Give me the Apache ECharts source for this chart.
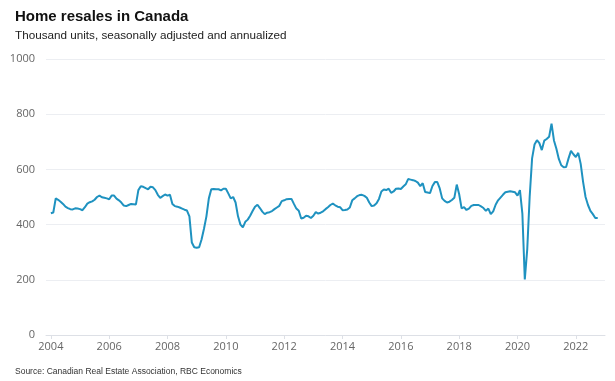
<!DOCTYPE html>
<html>
<head>
<meta charset="utf-8">
<script src="https://cdn.jsdelivr.net/npm/echarts@6/dist/echarts.min.js"></script>
<style>html,body{margin:0;padding:0;background:#fff}#c{width:615px;height:381px}</style>
</head>
<body>
<div id="c"></div>
<script>
const startYear = 2004;
const yearTicks = [2004, 2006, 2008, 2010, 2012, 2014, 2016, 2018, 2020, 2022];
const yTicks = [0, 200, 400, 600, 800, 1000];
// Monthly values, Jan 2004 – Oct 2022 (thousand units, SAAR)
const v2004 = [441, 444, 495, 490, 483, 475, 465, 460, 456, 455, 459, 458];
const v2005 = [456, 452, 463, 476, 481, 484, 490, 500, 505, 499, 497, 495];
const v2006 = [492, 505, 505, 494, 488, 480, 469, 467, 471, 475, 474, 473];
const v2007 = [525, 539, 537, 532, 528, 537, 535, 525, 508, 497, 503, 509];
const v2008 = [505, 508, 475, 467, 465, 462, 458, 454, 451, 430, 335, 318];
const v2009 = [316, 318, 346, 385, 430, 495, 528, 529, 528, 528, 524, 530];
const v2010 = [530, 513, 495, 500, 480, 430, 400, 390, 410, 418, 432, 449];
const v2011 = [465, 472, 460, 447, 438, 443, 445, 449, 456, 462, 468, 485];
const v2012 = [488, 492, 493, 493, 475, 458, 450, 422, 425, 432, 430, 424];
const v2013 = [432, 445, 440, 443, 448, 456, 463, 471, 476, 470, 465, 463];
const v2014 = [452, 453, 455, 462, 488, 495, 503, 507, 508, 504, 497, 480];
const v2015 = [467, 469, 477, 493, 520, 527, 525, 530, 515, 520, 530, 531];
const v2016 = [529, 538, 546, 565, 563, 561, 558, 552, 539, 550, 518, 516];
const v2017 = [514, 540, 554, 554, 531, 495, 486, 480, 483, 489, 497, 545];
const v2018 = [510, 459, 463, 453, 458, 468, 471, 471, 471, 466, 460, 450];
const v2019 = [458, 438, 448, 472, 488, 498, 508, 517, 519, 521, 519, 517];
const v2020 = [505, 525, 440, 201, 310, 500, 640, 690, 706, 695, 670, 704];
const v2021 = [710, 718, 766, 705, 675, 638, 615, 608, 609, 640, 667, 655];
const v2022 = [645, 660, 620, 554, 500, 471, 450, 438, 424, 424];

const values = [].concat(v2004, v2005, v2006, v2007, v2008, v2009, v2010, v2011, v2012,
  v2013, v2014, v2015, v2016, v2017, v2018, v2019, v2020, v2021, v2022);
const seriesData = values.map((v, i) => [startYear + i / 12, v]);

const chart = echarts.init(document.getElementById('c'), null, {renderer: 'canvas'});
chart.setOption({
  animation: false,
  backgroundColor: '#fff',
  title: [
    {text: 'Home resales in Canada', left: 10, top: 4,
     textStyle: {fontFamily: 'Liberation Sans, Arial', fontSize: 15, fontWeight: 'bold', color: '#111'}},
    {text: 'Thousand units, seasonally adjusted and annualized', left: 10, top: 25,
     textStyle: {fontFamily: 'Liberation Sans, Arial', fontSize: 11.7, fontWeight: 'normal', color: '#222'}},
    {text: 'Source: Canadian Real Estate Association, RBC Economics', left: 10, top: 362,
     textStyle: {fontFamily: 'Liberation Sans, Arial', fontSize: 8.5, fontWeight: 'normal', color: '#333'}}
  ],
  grid: {left: 46, right: 10, top: 59, height: 276, containLabel: false},
  xAxis: {
    type: 'value',
    min: 2003.833,
    max: 2023,
    axisLine: {show: true, lineStyle: {color: '#dde0e6', width: 1}},
    axisTick: {show: true, customValues: yearTicks, length: 4, lineStyle: {color: '#dde0e6'}},
    axisLabel: {customValues: yearTicks, color: '#666', fontFamily: 'Open Sans', fontSize: 11, margin: 6,
      formatter: v => String(Math.round(v))},
    splitLine: {show: false}
  },
  yAxis: {
    type: 'value',
    min: 0,
    max: 1000,
    interval: 200,
    axisLine: {show: false},
    axisTick: {show: false},
    axisLabel: {color: '#666', fontFamily: 'Open Sans', fontSize: 11, margin: 11,
      formatter: v => String(v)},
    splitLine: {lineStyle: {color: '#eceef2', width: 1}}
  },
  series: [{
    type: 'line',
    data: seriesData,
    showSymbol: false,
    lineStyle: {color: '#1f92c0', width: 2},
    itemStyle: {color: '#1f92c0'}
  }]
});
</script>
</body>
</html>
